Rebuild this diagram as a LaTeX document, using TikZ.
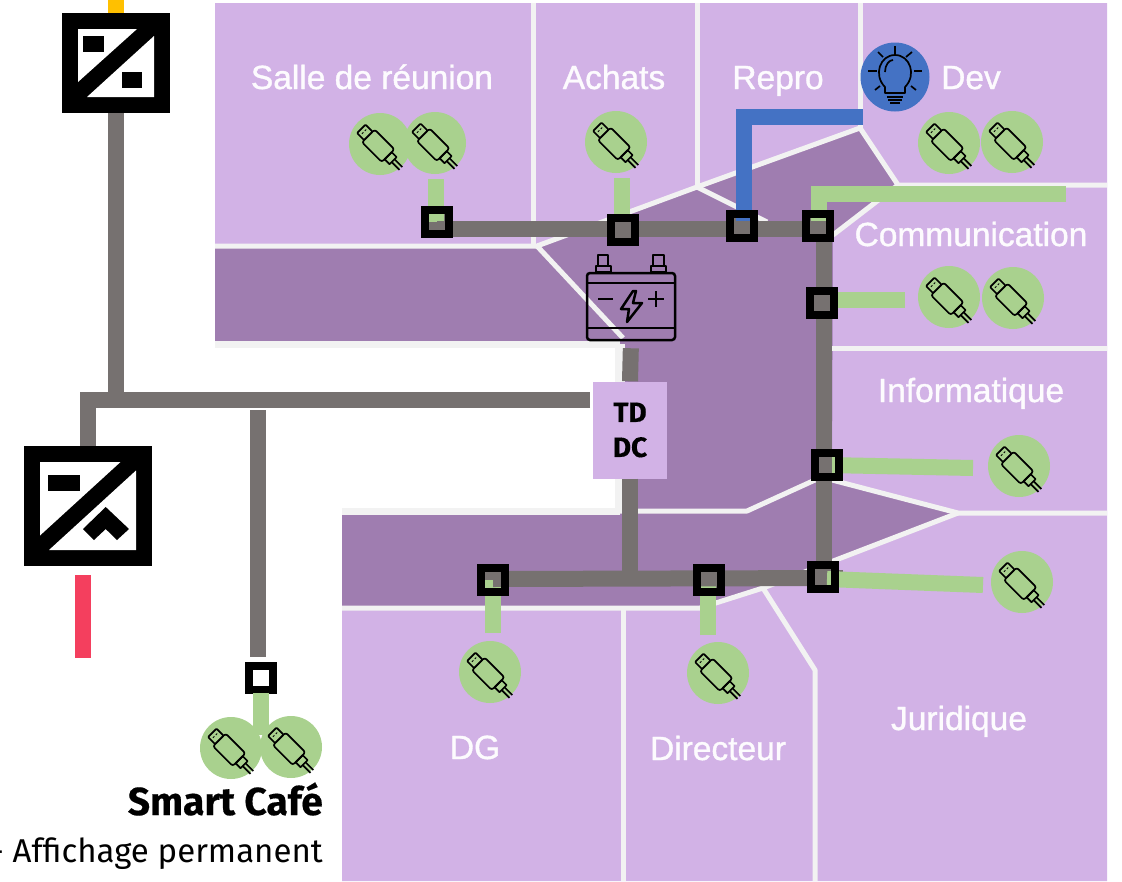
\documentclass[tikz,border=0pt]{standalone}
\usepackage{fontspec}
\setmainfont{Fira Sans}
\newfontfamily\roomfont[FakeBold=1.1]{Liberation Sans}
\newfontfamily\heavyfont[BoldFeatures={FakeBold=0.4}]{Fira Sans}
\definecolor{roomlight}{HTML}{D2B2E6}
\definecolor{roomdark}{HTML}{9F7DB0}
\definecolor{wallgrey}{HTML}{F2F2F2}
\definecolor{busgrey}{HTML}{767170}
\definecolor{usbgreen}{HTML}{A9D18E}
\definecolor{lampblue}{HTML}{4472C4}
\definecolor{sunyellow}{HTML}{FFC000}
\definecolor{gridred}{HTML}{F43F5E}
\tikzset{
  wall/.style={draw=wallgrey, line width=5, line join=round},
  busline/.style={draw=busgrey, line width=16},
  usbline/.style={draw=usbgreen, line width=16},
  lampline/.style={draw=lampblue, line width=16},
  junction/.style={draw=black, line width=8, minimum size=23.5, inner sep=0, outer sep=0},
  usbdot/.style={circle, fill=usbgreen, minimum size=62, inner sep=0},
  iconline/.style={draw=black, line width=1.7, line join=round},
  batteryline/.style={draw=black, line width=2.5, line join=round},
  converter/.style={fill=black, inner sep=0, outer sep=0},
  roomlabel/.style={anchor=base, text=white!95!roomlight, font=\roomfont\fontsize{33.5}{36}\selectfont},
  usbicon/.pic={
    \begin{scope}[rotate=-45]
      \draw [iconline, rounded corners=1] (-24,-3.5) rectangle (-14,8.5);
      \draw [iconline, rounded corners=2.5] (-14,-6.5) rectangle (14,11.5);
      \draw [iconline] (14,-2.5) rectangle (21,7.5);
      \draw [iconline] (21,0.5) -- (32,0.5);
      \draw [iconline] (21,4.5) -- (32,4.5);
      \draw [iconline, line width=1] (-20,-0.5) -- (-20,1.5);
      \draw [iconline, line width=1] (-20,3.5) -- (-20,5.5);
    \end{scope}
  }
}
\begin{document}
\begin{tikzpicture}[x=1pt, y=-1pt]
  \useasboundingbox (0,0) rectangle (1122,881);

  \fill [color=roomlight] (215,3) -- (1107,3) -- (1107,881) -- (342,881) -- (342,511)
    -- (620,511) -- (620,344) -- (215,344) -- cycle;
  \fill [color=roomdark] (215,247) -- (537,247) -- (697,187) -- (860,128) -- (898,185)
    -- (833,235) -- (832,480) -- (958,513) -- (763,588) -- (700,608) -- (342,608)
    -- (342,511) -- (620,511) -- (620,344) -- (215,344) -- cycle;

  \draw [wall] (215,246) -- (537,246) -- (697,187) -- (860,128) -- (898,185) -- (1107,185);
  \draw [wall] (537,246) -- (623,338);
  \draw [wall] (533,3) -- (533,246);
  \draw [wall] (697,3) -- (697,187);
  \draw [wall] (860,3) -- (860,128);
  \draw [wall] (697,187) -- (767,222);
  \draw [wall] (898,185) -- (833,235);
  \draw [wall] (832,348) -- (1107,348);
  \draw [wall] (620,511) -- (747,511) -- (815,480);
  \draw [wall] (832,480) -- (958,513) -- (1107,513);
  \draw [wall] (958,513) -- (763,588) -- (700,608) -- (342,608);
  \draw [wall] (763,588) -- (815,670) -- (815,881);
  \draw [wall] (623,608) -- (623,881);
  \draw [wall, line width=7] (215,344) -- (620,344);
  \draw [wall, line width=7] (342,511) -- (620,511);
  \draw [wall, line width=10] (620,344) -- (620,511);

  \node [roomlabel] (salle) at (372,89) {Salle de réunion};
  \node [roomlabel] (achats) at (614,89) {Achats};
  \node [roomlabel] (repro) at (778,89) {Repro};
  \node [roomlabel] (dev) at (971,89) {Dev};
  \node [roomlabel] (communication) at (971,246) {Communication};
  \node [roomlabel] (informatique) at (971,402) {Informatique};
  \node [roomlabel] (dg) at (475,759) {DG};
  \node [roomlabel] (directeur) at (718,760) {Directeur};
  \node [roomlabel] (juridique) at (959,730) {Juridique};

  \node [junction, fill=busgrey] (jsalle) at (437,222) {};
  \node [junction, fill=busgrey] (jachats) at (623,230) {};
  \node [junction, fill=busgrey] (jrepro) at (742,226) {};
  \node [junction, fill=busgrey] (jdev) at (818,226) {};
  \node [junction, fill=busgrey] (jcomm) at (822,303) {};
  \node [junction, fill=busgrey] (jinfo) at (827,465) {};
  \node [junction, fill=busgrey] (jjur) at (823,577) {};
  \node [junction, fill=busgrey] (jdir) at (709,580) {};
  \node [junction, fill=busgrey] (jdg) at (493,580) {};
  \node [junction, fill=white] (jcafe) at (261,678) {};

  \node [usbdot] (usbsalleA) at (380,144) {};
  \node [usbdot] (usbsalleB) at (435,143) {};
  \node [usbdot] (usbachats) at (616,142) {};
  \node [usbdot] (usbdevA) at (949,143) {};
  \node [usbdot] (usbdevB) at (1012,142) {};
  \node [usbdot] (usbcommA) at (949,297) {};
  \node [usbdot] (usbcommB) at (1013,298) {};
  \node [usbdot] (usbinfo) at (1019,466) {};
  \node [usbdot] (usbjur) at (1022,582) {};
  \node [usbdot] (usbdg) at (490,672) {};
  \node [usbdot] (usbdir) at (718,673) {};
  \node [usbdot] (usbcafeA) at (231,748) {};
  \node [usbdot] (usbcafeB) at (291,747) {};

  \node [converter, minimum width=108, minimum height=100] (convtop) at (116,63) {};
  \node [converter, minimum width=128, minimum height=120] (convbot) at (88,506) {};
  \node [fill=roomlight, minimum width=74, minimum height=97, inner sep=0, align=center,
    font=\heavyfont\bfseries\fontsize{28}{35}\selectfont] (tddc) at (630,430) {TD\\DC};
  \node [draw=black, line width=2.5, rounded corners=3, minimum width=88, minimum height=67,
    inner sep=0] (battery) at (631,306.5) {};
  \node [circle, fill=lampblue, minimum size=69, inner sep=0] (lamp) at (895,77) {};

  \coordinate (bustop) at (824,229);
  \coordinate (busbot) at (824,579);
  \coordinate (busend) at (843,578);
  \coordinate (feedend) at (590,400);
  \coordinate (cafetop) at (258,410);
  \coordinate (yellowtop) at (116,0);
  \coordinate (redtop) at (83,575);
  \coordinate (redbot) at (83,658);
  \coordinate (lampend) at (863,117);
  \coordinate (lampcorner) at (744,117);
  \coordinate (devcorner) at (819,194);
  \coordinate (devend) at (1066,194);
  \coordinate (commend) at (905,300);
  \coordinate (infoend) at (973,468);
  \coordinate (jurstart) at (827,579);
  \coordinate (jurend) at (983,585);
  \coordinate (salleend) at (436,179);
  \coordinate (achatsend) at (622,178);
  \coordinate (dgend) at (493,633);
  \coordinate (dirend) at (708,635);
  \coordinate (cafejoin) at (261,735);

  \draw [usbline] (salleend) -- (salleend |- jsalle.center);
  \draw [usbline] (achatsend) -- (achatsend |- jachats.center);
  \draw [usbline] (devend) -- (devcorner) -- (devcorner |- jdev.center);
  \draw [usbline] (jcomm.center |- commend) -- (commend);
  \draw [usbline] (jinfo.center) -- (infoend);
  \draw [usbline] (dgend) -- (jdg.center);
  \draw [usbline] (dirend) -- (dirend |- jdir.center);
  \draw [usbline, shorten <=3] (jcafe.south) -- (cafejoin);
  \draw [lampline] (lampend) -- (lampcorner) -- (lampcorner |- jrepro.center);

  \draw [busline] (jsalle.center |- bustop) -- (bustop) -- (busbot);
  \draw [busline] (jdg.center |- busbot) -- (busend);
  \draw [busline, shorten <=7] (battery.south) -- (tddc.north);
  \draw [busline] (tddc.south) -- (tddc.south |- busbot);
  \draw [busline] (feedend) -- (feedend -| convbot.north) -- (convbot.north);
  \draw [busline] (convtop.south) -- (convtop.south |- feedend);
  \draw [busline, shorten >=9] (cafetop) -- (cafetop |- jcafe.north);
  \draw [line width=16, color=sunyellow] (yellowtop) -- (convtop.north);
  \draw [line width=16, color=gridred] (redtop) -- (redbot);
  \draw [usbline] (jurstart) -- (jurend);

  \node [junction] at (jsalle) {};
  \node [junction] at (jachats) {};
  \node [junction] at (jrepro) {};
  \node [junction] at (jdev) {};
  \node [junction] at (jcomm) {};
  \node [junction] at (jinfo) {};
  \node [junction] at (jjur) {};
  \node [junction] at (jdir) {};
  \node [junction] at (jdg) {};

  \pic at (usbsalleA) {usbicon};
  \pic at (usbsalleB) {usbicon};
  \pic at (usbachats) {usbicon};
  \pic at (usbdevA) {usbicon};
  \pic at (usbdevB) {usbicon};
  \pic at (usbcommA) {usbicon};
  \pic at (usbcommB) {usbicon};
  \pic at (usbinfo) {usbicon};
  \pic at (usbjur) {usbicon};
  \pic at (usbdg) {usbicon};
  \pic at (usbdir) {usbicon};
  \pic at (usbcafeA) {usbicon};
  \pic at (usbcafeB) {usbicon};

  \fill [color=white] (78,29) -- (137,29) -- (78,82) -- cycle;
  \fill [color=white] (154,36) -- (154,97) -- (87,97) -- cycle;
  \fill [color=black] (83,36) rectangle (104,52);
  \fill [color=black] (122,72) rectangle (142,88);

  \fill [color=white] (40,462) -- (120.5,462) -- (40,535.5) -- cycle;
  \fill [color=white] (136,470.5) -- (136,550) -- (49,550) -- cycle;
  \fill [color=black] (48,475) rectangle (80,491);
  \fill [color=black] (105.7,507) -- (129,529) -- (117,540) -- (105.7,529) -- (94,540) -- (83,529) -- cycle;

  \draw [batteryline] (587,283) -- (675,283);
  \draw [batteryline] (587,328) -- (675,328);
  \draw [batteryline] (598,266) rectangle (608,255);
  \draw [batteryline] (596,272) rectangle (611,266);
  \draw [batteryline] (653,266) rectangle (664,255);
  \draw [batteryline] (651,272) rectangle (666,266);
  \draw [batteryline] (598,299) -- (613,299);
  \draw [batteryline] (648,299) -- (664,299);
  \draw [batteryline] (656,291) -- (656,307);
  \draw [batteryline] (633,291) -- (621,309) -- (629,309) -- (627,322) -- (642,303) -- (633,303) -- (636,291) -- cycle;

  \draw [iconline] (885,87) .. controls (873,75) and (880,55) .. (895,55)
    .. controls (910,55) and (917,75) .. (905,87) -- (905,93) -- (885,93) -- cycle;
  \draw [iconline] (885,72) .. controls (885,65) and (889,60) .. (893,60);
  \draw [iconline] (887,97) -- (903,97);
  \draw [iconline] (888,100) -- (902,100);
  \draw [iconline] (890,103) -- (900,103);
  \draw [iconline] (895,46) -- (895,54);
  \draw [iconline] (868,71) -- (877,71);
  \draw [iconline] (914,71) -- (922,71);
  \draw [iconline] (878,52) -- (883,57);
  \draw [iconline] (912,52) -- (906,57);
  \draw [iconline] (875,90) -- (880,86);
  \draw [iconline] (916,90) -- (911,86);

  \node [anchor=base east, inner sep=0, font=\heavyfont\bfseries\fontsize{39}{42}\selectfont] (smartcafe) at (323,815) {Smart Café};
  \node [anchor=base east, inner sep=0, font=\fontsize{33}{36}\selectfont] (affichage) at (323,862) {- Affichage permanent};
\end{tikzpicture}
\end{document}
